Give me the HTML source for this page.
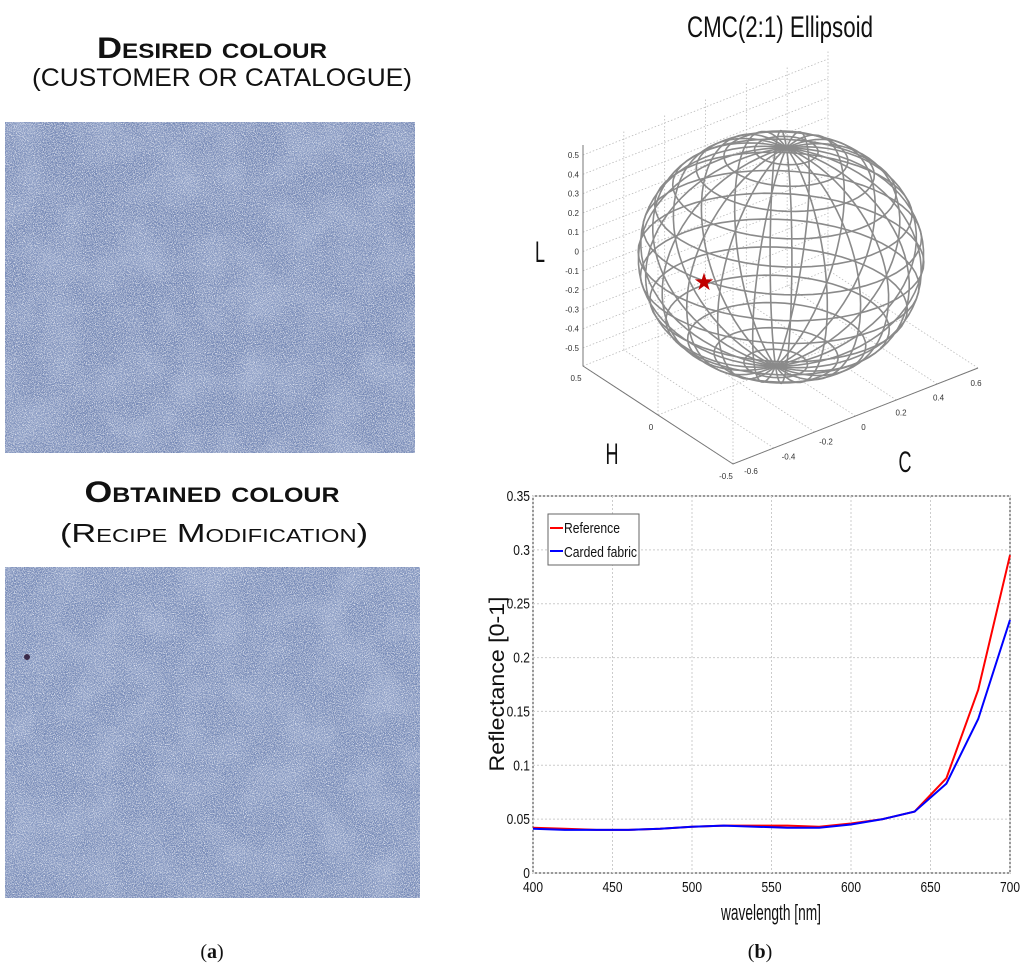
<!DOCTYPE html>
<html><head><meta charset="utf-8">
<style>
html,body{margin:0;padding:0;background:#fff;}
body{width:1024px;height:972px;overflow:hidden;position:relative;font-family:"Liberation Sans",sans-serif;}
svg{position:absolute;left:0;top:0;}
</style></head>
<body>
<svg id="root" width="1024" height="972" viewBox="0 0 1024 972">
<defs>
<filter id="fabric" x="0" y="0" width="100%" height="100%">
<feTurbulence type="fractalNoise" baseFrequency="1.1" numOctaves="2" seed="3" result="n"/>
<feColorMatrix in="n" type="matrix" values="0 0 0 0 0.82  0 0 0 0 0.86  0 0 0 0 0.93  0 0 0 3.2 -1.5" result="c"/>
<feTurbulence type="fractalNoise" baseFrequency="0.9" numOctaves="1" seed="11" result="n2"/>
<feColorMatrix in="n2" type="matrix" values="0 0 0 0 0.3  0 0 0 0 0.37  0 0 0 0 0.58  0 0 0 -3 1.55" result="e"/>
<feTurbulence type="fractalNoise" baseFrequency="0.025" numOctaves="2" seed="7" result="m"/>
<feColorMatrix in="m" type="matrix" values="0 0 0 0 0.33  0 0 0 0 0.41  0 0 0 0 0.63  0 0 0 1.4 -0.55" result="d"/>
<feMerge><feMergeNode in="SourceGraphic"/><feMergeNode in="d"/><feMergeNode in="e"/><feMergeNode in="c"/></feMerge>
</filter>
</defs>

<g font-family="'Liberation Sans',sans-serif" fill="#111">
<text x="212" y="58" text-anchor="middle" font-weight="bold" font-size="30" textLength="230" lengthAdjust="spacingAndGlyphs" style="font-variant:small-caps">Desired colour</text>
<text x="222" y="86" text-anchor="middle" font-size="25" textLength="380" lengthAdjust="spacingAndGlyphs">(CUSTOMER OR CATALOGUE)</text>
<rect x="5" y="122" width="410" height="331" fill="#7387b5" filter="url(#fabric)"/>
<text x="212" y="502" text-anchor="middle" font-weight="bold" font-size="30" textLength="255" lengthAdjust="spacingAndGlyphs" style="font-variant:small-caps">Obtained colour</text>
<text x="214" y="542" text-anchor="middle" font-size="26" textLength="308" lengthAdjust="spacingAndGlyphs" style="font-variant:small-caps">(Recipe Modification)</text>
<rect x="5" y="567" width="415" height="331" fill="#7589b7" filter="url(#fabric)"/>
<circle cx="27" cy="657" r="3" fill="#3a2a4a"/>
<text x="212" y="958" text-anchor="middle" font-family="'Liberation Serif',serif" font-size="20">(<tspan font-weight="bold">a</tspan>)</text>
</g>

<text x="780" y="37" text-anchor="middle" font-size="30" textLength="186" lengthAdjust="spacingAndGlyphs" fill="#111">CMC(2:1) Ellipsoid</text>
<g id="ell"></g>

<g id="chart"></g>
<text x="760" y="958" text-anchor="middle" font-family="'Liberation Serif',serif" font-size="20" fill="#111">(<tspan font-weight="bold">b</tspan>)</text>
</svg>
<script>
const NS='http://www.w3.org/2000/svg';
const wavelengths=[400,420,440,460,480,500,520,540,560,580,600,620,640,660,680,700];
const referenceValues=[0.042,0.041,0.040,0.040,0.041,0.043,0.044,0.044,0.044,0.043,0.046,0.050,0.057,0.088,0.170,0.295];
const cardedValues=[0.041,0.040,0.040,0.040,0.041,0.043,0.044,0.043,0.042,0.042,0.045,0.050,0.057,0.083,0.143,0.235];
const xTicks=[400,450,500,550,600,650,700];
const yTicks=[0,0.05,0.1,0.15,0.2,0.25,0.3,0.35];
const yTickLabels=['0','0.05','0.1','0.15','0.2','0.25','0.3','0.35'];
const lTicks=['0.5','0.4','0.3','0.2','0.1','0','-0.1','-0.2','-0.3','-0.4','-0.5'];
const cTicks=['-0.6','-0.4','-0.2','0','0.2','0.4','0.6'];
const hTicks=['0.5','0','-0.5'];

function mk(tag,attrs,parent){const e=document.createElementNS(NS,tag);for(const k in attrs)e.setAttribute(k,attrs[k]);parent.appendChild(e);return e;}

const chart=document.getElementById('chart');
const X0=533,X1=1010,Y0=873,Y1=496;
const sx=v=>X0+(v-400)/300*(X1-X0);
const sy=v=>Y0-(v/0.35)*(Y0-Y1);
mk('rect',{x:X0,y:Y1,width:X1-X0,height:Y0-Y1,fill:'#fff',stroke:'#333','stroke-width':1},chart);
xTicks.forEach(t=>{
  const g=mk('line',{x1:sx(t),x2:sx(t),y1:Y1,y2:Y0,stroke:'#ccc','stroke-dasharray':'2,2'},chart);
  
  const l=mk('text',{x:sx(t),y:Y0+19,'text-anchor':'middle','font-size':15,fill:'#111',transform:`translate(${sx(t)} 0) scale(0.8 1) translate(${-sx(t)} 0)`},chart);
  l.textContent=t;
});
yTicks.forEach((t,i)=>{
  const g=mk('line',{x1:X0,x2:X1,y1:sy(t),y2:sy(t),stroke:'#ccc','stroke-dasharray':'2,2'},chart);
  
  const l=mk('text',{x:X0-3,y:sy(t)+5,'text-anchor':'end','font-size':15,fill:'#111',transform:`translate(${X0-3} 0) scale(0.8 1) translate(${-(X0-3)} 0)`},chart);
  l.textContent=yTickLabels[i];
});
function series(vals,color,name){
  const d=wavelengths.map((w,i)=>(i?'L':'M')+sx(w).toFixed(1)+','+sy(vals[i]).toFixed(1)).join('');
  const p=mk('path',{d:d,fill:'none',stroke:color,'stroke-width':2},chart);
  
}
series(referenceValues,'#f00','reference-line');
series(cardedValues,'#00f','carded-fabric-line');
const lg=mk('g',{},chart);
mk('rect',{x:548,y:514,width:91,height:51,fill:'#fff',stroke:'#666'},lg);
mk('line',{x1:550,x2:563,y1:528,y2:528,stroke:'#f00','stroke-width':2},lg);
mk('line',{x1:550,x2:563,y1:551,y2:551,stroke:'#00f','stroke-width':2},lg);
let t1=mk('text',{x:564,y:533,'font-size':15,fill:'#111',textLength:56,lengthAdjust:'spacingAndGlyphs'},lg);t1.textContent='Reference';

let t2=mk('text',{x:564,y:557,'font-size':15,fill:'#111',textLength:73,lengthAdjust:'spacingAndGlyphs'},lg);t2.textContent='Carded fabric';

let xt=mk('text',{x:771,y:920,'text-anchor':'middle','font-size':22,fill:'#111',textLength:100,lengthAdjust:'spacingAndGlyphs'},chart);xt.textContent='wavelength [nm]';

let yt=mk('text',{x:0,y:0,'text-anchor':'middle','font-size':21,fill:'#111',textLength:175,lengthAdjust:'spacingAndGlyphs',transform:'translate(504 684) rotate(-90)'},chart);yt.textContent='Reflectance [0-1]';


const ell=document.getElementById('ell');
const A={x:583,y:366},B={x:733,y:464},C={x:978,y:368};
const dotted={stroke:'#bbb','stroke-width':0.8,'stroke-dasharray':'1.5,2',fill:'none'};
for(let i=0;i<=6;i++){
  const px=B.x+(C.x-B.x)*i/6, py=B.y+(C.y-B.y)*i/6;
  const l=mk('line',Object.assign({x1:px,y1:py,x2:px-(B.x-A.x),y2:py-(B.y-A.y)},dotted),ell);
  const v=mk('line',Object.assign({x1:px-(B.x-A.x),y1:py-(B.y-A.y),x2:px-(B.x-A.x),y2:py-(B.y-A.y)-220},dotted),ell);
}
for(let i=0;i<=2;i++){
  const px=A.x+(B.x-A.x)*i/2, py=A.y+(B.y-A.y)*i/2;
  const l=mk('line',Object.assign({x1:px,y1:py,x2:px+(C.x-B.x),y2:py+(C.y-B.y)},dotted),ell);
  const v=mk('line',Object.assign({x1:px,y1:py,x2:px,y2:py-220},dotted),ell);
}
lTicks.forEach((t,i)=>{
  const y=155+i*(348-155)/10;
  const w=mk('line',Object.assign({x1:A.x,y1:y,x2:A.x+(C.x-B.x),y2:y+(C.y-B.y)},dotted),ell);
  const l=mk('text',{x:A.x-4,y:y+3,'text-anchor':'end','font-size':8,fill:'#333'},ell);l.textContent=t;
  
});
mk('path',{d:`M${A.x},145 L${A.x},${A.y} L${B.x},${B.y} L${C.x},${C.y}`,stroke:'#777','stroke-width':1,fill:'none'},ell);
cTicks.forEach((t,i)=>{
  const px=B.x+10+(C.x-B.x-20)*i/6, py=B.y-4+(C.y-B.y+8)*i/6;
  const l=mk('text',{x:px+8,y:py+14,'text-anchor':'middle','font-size':8,fill:'#333'},ell);l.textContent=t;
  
});
hTicks.forEach((t,i)=>{
  const px=A.x+(B.x-A.x)*i/2, py=A.y+(B.y-A.y)*i/2;
  const l=mk('text',{x:px-7,y:py+15,'text-anchor':'middle','font-size':8,fill:'#333'},ell);l.textContent=t;
  
});
[['L',540,262,'l-axis-title'],['H',612,464,'h-axis-title'],['C',905,472,'c-axis-title']].forEach(a=>{
  const l=mk('text',{x:a[1],y:a[2],'text-anchor':'middle','font-size':30,fill:'#111',transform:`translate(${a[1]} 0) scale(0.6 1) translate(${-a[1]} 0)`},ell);l.textContent=a[0];
  
});
const cx=781,cy=257,ra=143,rd=143,rz=122,tilt=0.46,rot=0.35,roll=-0.05;
function proj(th,ph){
  let x=Math.sin(th)*Math.cos(ph)*ra,y=Math.sin(th)*Math.sin(ph)*rd,z=Math.cos(th)*rz;
  let x1=x*Math.cos(rot)-y*Math.sin(rot),y1=x*Math.sin(rot)+y*Math.cos(rot);
  let sxp=x1, syp=z*Math.cos(tilt)+y1*Math.sin(tilt);
  let rx=sxp*Math.cos(roll)-syp*Math.sin(roll), ry=sxp*Math.sin(roll)+syp*Math.cos(roll);
  return [cx+rx,cy-ry];
}
const wf=mk('g',{stroke:'#8a8a8a','stroke-width':1.6,fill:'none'},ell);

for(let m=0;m<24;m++){
  const ph=m/24*2*Math.PI;let d='';
  for(let k=0;k<=40;k++){const p=proj(k/40*Math.PI,ph);d+=(k?'L':'M')+p[0].toFixed(1)+','+p[1].toFixed(1);}
  mk('path',{d:d},wf);
}
for(let n=1;n<14;n++){
  const th=n/14*Math.PI;let d='';
  for(let k=0;k<=60;k++){const p=proj(th,k/60*2*Math.PI);d+=(k?'L':'M')+p[0].toFixed(1)+','+p[1].toFixed(1);}
  mk('path',{d:d},wf);
}
const st=mk('text',{x:704,y:290,'text-anchor':'middle','font-size':24,fill:'#c00000'},ell);st.textContent='★';

</script>
</body></html>
